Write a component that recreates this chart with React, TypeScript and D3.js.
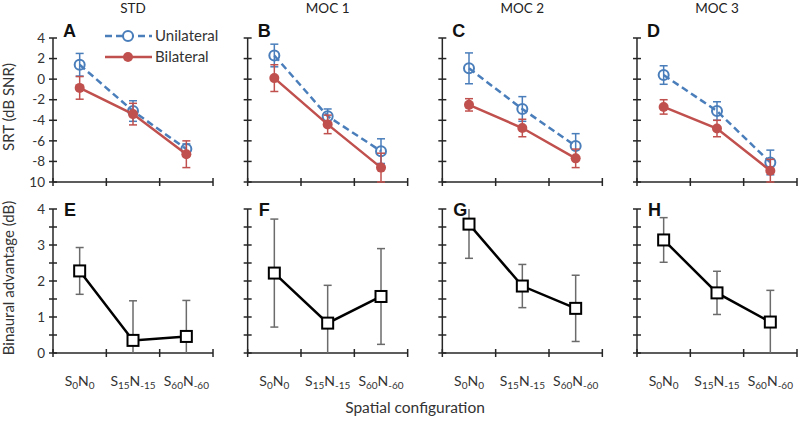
import React from "react";
import * as d3 from "d3";

const panelTitles = ["STD", "MOC 1", "MOC 2", "MOC 3"];
const topLetters = ["A", "B", "C", "D"];
const bottomLetters = ["E", "F", "G", "H"];
const categories = ["S0N0", "S15N-15", "S60N-60"];
const catLabelParts: [string, string, string, string][] = [
  ["S", "0", "N", "0"],
  ["S", "15", "N", "-15"],
  ["S", "60", "N", "-60"],
];
const topTicks = [4, 2, 0, -2, -4, -6, -8, -10];
const topTickLabels = ["4", "2", "0", "-2", "-4", "-6", "-8", "10"];
const bottomMajorTicks = [0, 1, 2, 3, 4];
const bottomMinorTicks = [0.5, 1.5, 2.5, 3.5];

const unilateralMean = [
  [1.4, -3.1, -6.8],
  [2.3, -3.6, -7.0],
  [1.05, -2.9, -6.5],
  [0.4, -3.1, -8.1],
];
const unilateralErr = [
  [1.1, 1.0, 0.5],
  [1.1, 0.7, 1.2],
  [1.5, 1.2, 1.2],
  [0.9, 0.9, 1.2],
];
const bilateralMean = [
  [-0.85, -3.4, -7.3],
  [0.1, -4.4, -8.6],
  [-2.5, -4.75, -7.7],
  [-2.7, -4.8, -8.9],
];
const bilateralErr = [
  [1.1, 1.05, 1.3],
  [1.3, 0.9, 1.4],
  [0.6, 0.85, 0.9],
  [0.7, 0.8, 1.1],
];
const advantageMean = [
  [2.28, 0.35, 0.46],
  [2.22, 0.83, 1.57],
  [3.58, 1.86, 1.24],
  [3.14, 1.67, 0.86],
];
const advantageErr = [
  [0.65, 1.1, 1.0],
  [1.5, 1.05, 1.33],
  [0.95, 0.6, 0.92],
  [0.62, 0.6, 0.88],
];

const W = 800;
const H = 421;
const BLUE = "#4a7ebb";
const RED = "#c0504d";
const AXIS = "#262626";
const FONT = "Lato, 'Open Sans', sans-serif";
const BOLD = "'Liberation Sans', Arial, sans-serif";

export default function App() {
  const panelScale = d3
    .scaleBand<number>()
    .domain([0, 1, 2, 3])
    .range([53, 797])
    .paddingInner(0.178)
    .paddingOuter(0);
  const pw = panelScale.bandwidth();
  const yTop = d3.scaleLinear().domain([-10, 4]).range([182, 38]);
  const yBot = d3.scaleLinear().domain([0, 4]).range([353, 209]);

  const clampTop = (v: number) => Math.max(-10, Math.min(4, v));
  const clampBot = (v: number) => Math.max(0, Math.min(4, v));

  const panels = [0, 1, 2, 3].map((p) => {
    const x0 = panelScale(p)!;
    const x = d3.scaleBand<string>().domain(categories).range([x0, x0 + pw]);
    const cx = (c: string) => x(c)! + x.bandwidth() / 2;
    const boundaries = [x0, ...categories.map((c) => x(c)! + x.bandwidth())];
    const line = d3
      .line<number>()
      .x((_, i) => cx(categories[i]))
      .y((v) => yTop(v));
    const lineB = d3
      .line<number>()
      .x((_, i) => cx(categories[i]))
      .y((v) => yBot(v));

    const errBars = (
      means: number[],
      errs: number[],
      color: string,
      ys: d3.ScaleLinear<number, number>,
      clamp: (v: number) => number,
      key: string,
      sw: number
    ) =>
      means.map((m, i) => {
        const xx = cx(categories[i]);
        const hi = m + errs[i];
        const lo = m - errs[i];
        const yh = ys(clamp(hi));
        const yl = ys(clamp(lo));
        return (
          <g key={key + i} stroke={color} strokeWidth={sw}>
            <line x1={xx} x2={xx} y1={yh} y2={yl} />
            {clamp(hi) === hi && <line x1={xx - 4} x2={xx + 4} y1={yh} y2={yh} />}
            {clamp(lo) === lo && <line x1={xx - 4} x2={xx + 4} y1={yl} y2={yl} />}
          </g>
        );
      });

    return (
      <g key={p}>
        <text
          x={x0 + pw / 2}
          y={13}
          textAnchor="middle"
          fontSize={13.5}
          fontFamily={FONT}
          fill="#222"
        >
          {panelTitles[p]}
        </text>
        <g stroke={AXIS} strokeWidth={1.5}>
          <line x1={x0} x2={x0} y1={yTop(4)} y2={yTop(-10)} />
          <line x1={x0} x2={x0 + pw} y1={yTop(-10)} y2={yTop(-10)} />
          {topTicks.map((t) => (
            <line key={"yt" + t} x1={x0 - 4} x2={x0 + 4} y1={yTop(t)} y2={yTop(t)} />
          ))}
          {boundaries.map((b, i) => (
            <line key={"xt" + i} x1={b} x2={b} y1={yTop(-10) - 4} y2={yTop(-10) + 4} />
          ))}
        </g>
        {p === 0 &&
          topTicks.map((t, i) => (
            <text
              key={"ytl" + t}
              x={x0 - 8}
              y={yTop(t)}
              dy="0.35em"
              textAnchor="end"
              fontSize={13.5}
              fontFamily={FONT}
              fill="#333"
            >
              {topTickLabels[i]}
            </text>
          ))}
        <text x={x0 + 10} y={37} fontSize={18} fontWeight="bold" fontFamily={BOLD} fill="#111">
          {topLetters[p]}
        </text>
        {errBars(unilateralMean[p], unilateralErr[p], BLUE, yTop, clampTop, "ue", 1.5)}
        <path d={line(unilateralMean[p])!} fill="none" stroke={BLUE} strokeWidth={2.5} strokeDasharray="7,4" />
        {unilateralMean[p].map((v, i) => (
          <circle key={"uc" + i} cx={cx(categories[i])} cy={yTop(v)} r={5} fill="white" fillOpacity={0} stroke={BLUE} strokeWidth={2} />
        ))}
        {errBars(bilateralMean[p], bilateralErr[p], RED, yTop, clampTop, "be", 1.5)}
        <path d={line(bilateralMean[p])!} fill="none" stroke={RED} strokeWidth={2.5} />
        {bilateralMean[p].map((v, i) => (
          <circle key={"bc" + i} cx={cx(categories[i])} cy={yTop(v)} r={5} fill={RED} />
        ))}

        <g stroke={AXIS} strokeWidth={1.5}>
          <line x1={x0} x2={x0} y1={yBot(4)} y2={yBot(0)} />
          <line x1={x0} x2={x0 + pw} y1={yBot(0)} y2={yBot(0)} />
          {[...bottomMajorTicks, ...bottomMinorTicks].map((t) => (
            <line key={"byt" + t} x1={x0 - 4} x2={x0 + 4} y1={yBot(t)} y2={yBot(t)} />
          ))}
          {boundaries.map((b, i) => (
            <line key={"bxt" + i} x1={b} x2={b} y1={yBot(0) - 4} y2={yBot(0) + 4} />
          ))}
        </g>
        {p === 0 &&
          bottomMajorTicks.map((t) => (
            <text
              key={"bytl" + t}
              x={x0 - 8}
              y={yBot(t)}
              dy="0.35em"
              textAnchor="end"
              fontSize={13.5}
              fontFamily={FONT}
              fill="#333"
            >
              {t}
            </text>
          ))}
        <text x={x0 + 11} y={216} fontSize={18} fontWeight="bold" fontFamily={BOLD} fill="#111">
          {bottomLetters[p]}
        </text>
        {errBars(advantageMean[p], advantageErr[p], "#6b6b6b", yBot, clampBot, "ae", 1.5)}
        <path d={lineB(advantageMean[p])!} fill="none" stroke="#000" strokeWidth={2.5} />
        {advantageMean[p].map((v, i) => (
          <rect
            key={"sq" + i}
            x={cx(categories[i]) - 5.5}
            y={yBot(v) - 5.5}
            width={11}
            height={11}
            fill="white"
            stroke="#000"
            strokeWidth={2}
          />
        ))}
        {catLabelParts.map((parts, i) => (
          <text
            key={"cl" + i}
            x={cx(categories[i])}
            y={386}
            textAnchor="middle"
            fontSize={14}
            fontFamily={FONT}
            fill="#333"
          >
            {parts[0]}
            <tspan fontSize={10} dy={3}>{parts[1]}</tspan>
            <tspan dy={-3}>{parts[2]}</tspan>
            <tspan fontSize={10} dy={3}>{parts[3]}</tspan>
          </text>
        ))}
      </g>
    );
  });

  const legendX = 105;
  return (
    <svg width={W} height={H} style={{ position: "absolute", left: 0, top: 0, background: "white" }}>
      <rect width={W} height={H} fill="white" />
      {panels}
      <g>
        <line x1={legendX} x2={legendX + 47} y1={36} y2={36} stroke={BLUE} strokeWidth={2.5} strokeDasharray="7,4" />
        <circle cx={legendX + 23} cy={36} r={5} fill="white" stroke={BLUE} strokeWidth={2} />
        <text x={legendX + 50} y={36} dy="0.35em" fontSize={15} fontFamily={FONT} fill="#333">
          Unilateral
        </text>
        <line x1={legendX} x2={legendX + 47} y1={57} y2={57} stroke={RED} strokeWidth={2.5} />
        <circle cx={legendX + 23} cy={57} r={5} fill={RED} />
        <text x={legendX + 50} y={57} dy="0.35em" fontSize={15} fontFamily={FONT} fill="#333">
          Bilateral
        </text>
      </g>
      <text
        transform="translate(14,107) rotate(-90)"
        textAnchor="middle"
        fontSize={15}
        fontFamily={FONT}
        fill="#333"
      >
        SRT (dB SNR)
      </text>
      <text
        transform="translate(14,278) rotate(-90)"
        textAnchor="middle"
        fontSize={15}
        fontFamily={FONT}
        fill="#333"
      >
        Binaural advantage (dB)
      </text>
      <text x={415} y={413} textAnchor="middle" fontSize={15.5} fontFamily={FONT} fill="#333">
        Spatial configuration
      </text>
    </svg>
  );
}
